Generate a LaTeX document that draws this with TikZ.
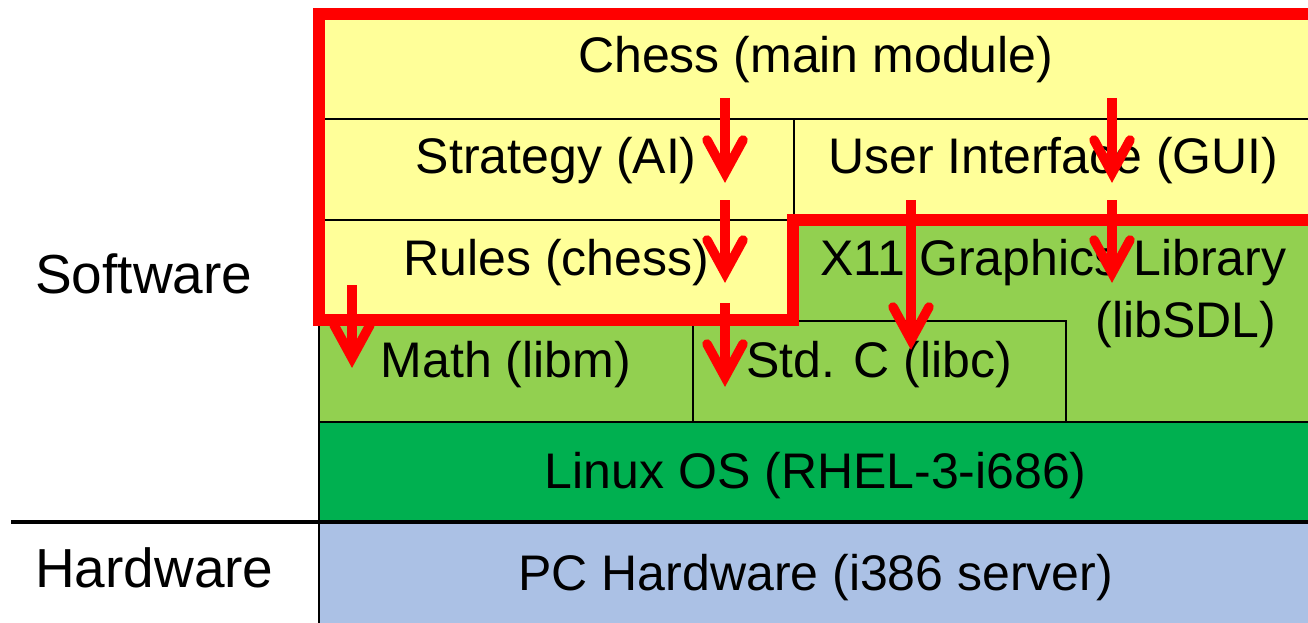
\documentclass[tikz,border=0pt]{standalone}
\usepackage{fontspec}
\setmainfont{Liberation Sans}

\definecolor{modyellow}{HTML}{FFFF99}
\definecolor{libgreen}{HTML}{92D050}
\definecolor{osgreen}{HTML}{00B050}
\definecolor{hwblue}{HTML}{ABC1E5}
\definecolor{depred}{HTML}{FF0000}

\tikzset{
  layer/.style={draw=black, line width=1.6pt, inner sep=0pt, anchor=north west,
    align=center, font=\fontsize{50}{62}\selectfont},
  layertext/.style={anchor=base, inner sep=0pt, font=\fontsize{50}{62}\selectfont},
  sidelabel/.style={anchor=base west, inner sep=0pt, font=\fontsize{55}{60}\selectfont},
  divider/.style={draw=black, line width=4.5pt},
  boundary/.style={draw=depred, line width=12pt, line join=miter},
  depline/.style={draw=depred, line width=9.5pt},
  pics/deparrow/.style={code={
    \draw[depline] (0,0) -- (0,#1);
    \draw[depline, line cap=round, line join=miter] (-18,#1-33) -- (0,#1) -- (18,#1-33);
  }}
}

\begin{document}
\begin{tikzpicture}[x=1pt, y=-1pt]
  \useasboundingbox (0,0) rectangle (1308,623);
  \clip (0,0) rectangle (1308,623);

  % application layers
  \node[layer, fill=modyellow, minimum width=994pt, text height=64pt, text depth=46pt]
    (chess) at (318,8) {Chess (main module)};
  \node[layer, fill=modyellow, minimum width=475pt, text height=55pt, text depth=46pt]
    (strategy) at (318,118) {Strategy (AI)};
  \node[layer, fill=modyellow, minimum width=519pt, text height=55pt, text depth=46pt]
    (gui) at (793,118) {User Interface (GUI)};
  \node[layer, fill=modyellow, minimum width=475pt, text height=56pt, text depth=45pt]
    (rules) at (318,219) {Rules (chess)};

  % libraries
  \node[layer, fill=libgreen, minimum width=519pt, text height=56pt, text depth=146pt]
    (x11) at (793,219) {X11 Graphics Library};
  \node[layertext] (x11b) at (1186,337) {(libSDL)};
  \node[layer, fill=libgreen, minimum width=374pt, text height=57pt, text depth=44pt]
    (libm) at (318,320) {Math (libm)};
  \node[layer, fill=libgreen, minimum width=373pt, text height=57pt, text depth=44pt]
    (libc) at (692,320) {Std. C (libc)};

  % operating system and hardware
  \node[layer, fill=osgreen, minimum width=994pt, text height=67pt, text depth=34pt]
    (linux) at (318,421) {Linux OS (RHEL-3-i686)};
  \node[layer, fill=hwblue, minimum width=994pt, text height=68pt, text depth=40pt]
    (pc) at (318,522) {PC Hardware (i386 server)};

  % side labels and the software/hardware divider
  \node[sidelabel] (sw) at (35,293) {Software};
  \node[sidelabel] (hw) at (35,587) {Hardware};
  \coordinate (divstart) at (11,522);
  \draw[divider] (divstart) -- (pc.north east);

  % boundary of the code under test
  \draw[boundary] (1320,14) -- (319,14) -- (319,320) -- (793,320) -- (793,220) -- (1320,220);

  % dependency arrows
  \coordinate (d1) at (725,98);
  \coordinate (d2) at (725,200);
  \coordinate (d3) at (725,303);
  \coordinate (d4) at (352,285);
  \coordinate (d5) at (1112,98);
  \coordinate (d6) at (1112,200);
  \coordinate (d7) at (911,200);
  \pic at (d1) {deparrow=75};
  \pic at (d2) {deparrow=73};
  \pic at (d3) {deparrow=74};
  \pic at (d4) {deparrow=73};
  \pic at (d5) {deparrow=75};
  \pic at (d6) {deparrow=73};
  \pic at (d7) {deparrow=140};
\end{tikzpicture}
\end{document}
